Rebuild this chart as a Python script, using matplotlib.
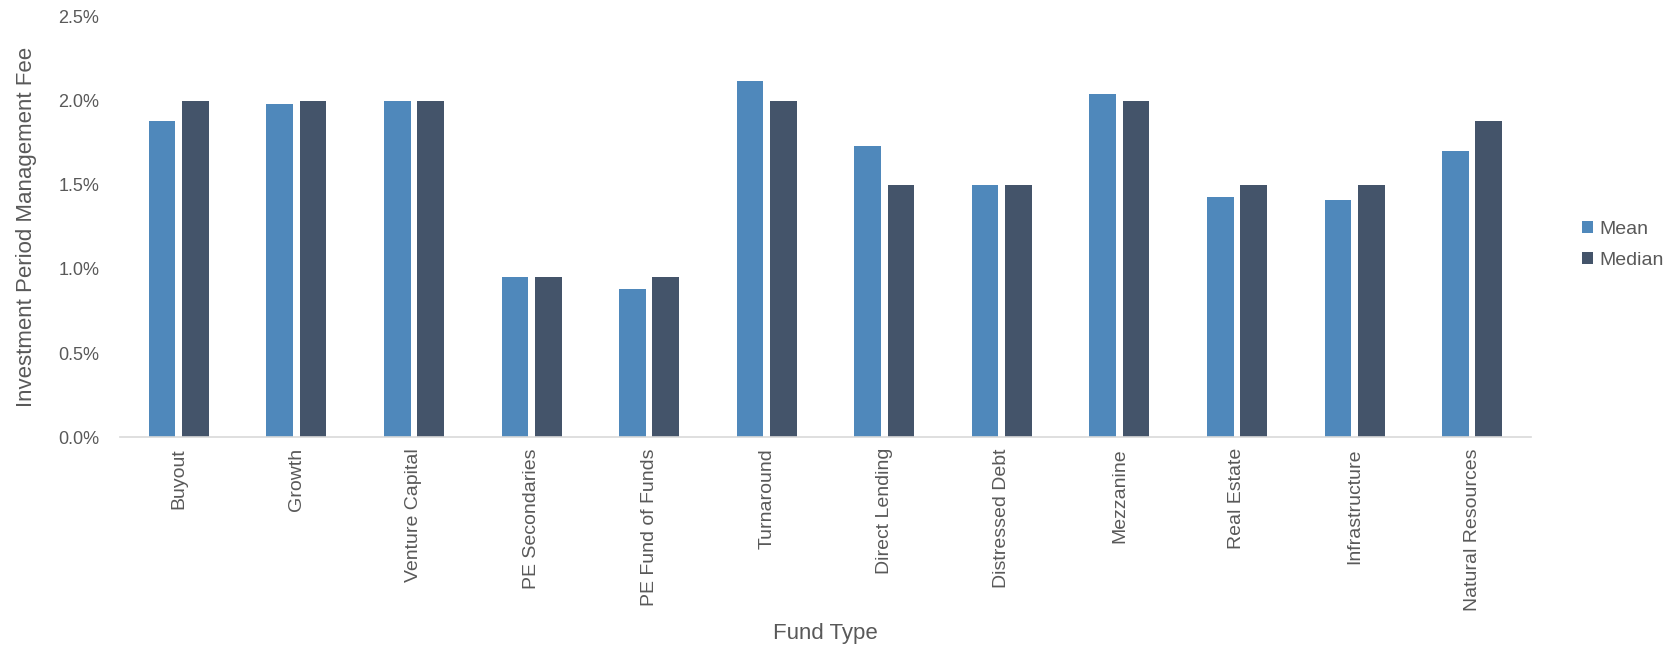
import numpy as np
import matplotlib.pyplot as plt
from matplotlib.ticker import FuncFormatter

# fund types and fee levels (percent)
fund_types = ["Buyout", "Growth", "Venture Capital", "PE Secondaries", "PE Fund of Funds",
              "Turnaround", "Direct Lending", "Distressed Debt", "Mezzanine", "Real Estate",
              "Infrastructure", "Natural Resources"]
mean_fee = [1.88, 1.98, 2.00, 0.95, 0.88, 2.12, 1.73, 1.50, 2.04, 1.43, 1.41, 1.70]
median_fee = [2.00, 2.00, 2.00, 0.95, 0.95, 2.00, 1.50, 1.50, 2.00, 1.50, 1.50, 1.88]
yticks = [0.0, 0.5, 1.0, 1.5, 2.0, 2.5]

MEAN_COLOR = "#4F88BB"
MEDIAN_COLOR = "#44546A"
TEXT_COLOR = "#595959"

plt.rcParams["font.family"] = ["Liberation Sans", "DejaVu Sans"]

fig = plt.figure(figsize=(16.79, 6.48), dpi=100)
ax = fig.add_axes([0.0715, 0.3256, 0.8403, 0.6482])

x = np.arange(len(fund_types))
w = 0.227
off = 0.142
ax.bar(x - off, mean_fee, width=w, color=MEAN_COLOR, label="Mean")
ax.bar(x + off, median_fee, width=w, color=MEDIAN_COLOR, label="Median")

ax.set_xlim(-0.5, len(fund_types) - 0.5)
ax.set_ylim(0, 2.5)
ax.set_yticks(yticks)
ax.yaxis.set_major_formatter(FuncFormatter(lambda v, _: f"{v:.1f}%"))
ax.set_xticks(x)
ax.set_xticklabels(fund_types, rotation=90, fontsize=14, color=TEXT_COLOR)

ax.tick_params(axis="y", length=0, pad=15, labelsize=13, labelcolor=TEXT_COLOR)
ax.tick_params(axis="x", length=0, pad=8)

for side in ["top", "right", "left"]:
    ax.spines[side].set_visible(False)
ax.spines["bottom"].set_color("#D9D9D9")
ax.spines["bottom"].set_linewidth(1.2)

ax.set_ylabel("Investment Period Management Fee", fontsize=16, color=TEXT_COLOR)
ax.yaxis.set_label_coords(-0.059, 0.5)
fig.text(0.4915, 0.022, "Fund Type", ha="center", va="center", fontsize=16, color=TEXT_COLOR)

leg = fig.legend(loc="center left", bbox_to_anchor=(0.932, 0.622), frameon=False,
                 fontsize=14, handlelength=0.55, handleheight=0.55, handletextpad=0.35,
                 labelspacing=0.75)
for t in leg.get_texts():
    t.set_color(TEXT_COLOR)

fig.savefig("out.png", dpi=100, facecolor="white")
